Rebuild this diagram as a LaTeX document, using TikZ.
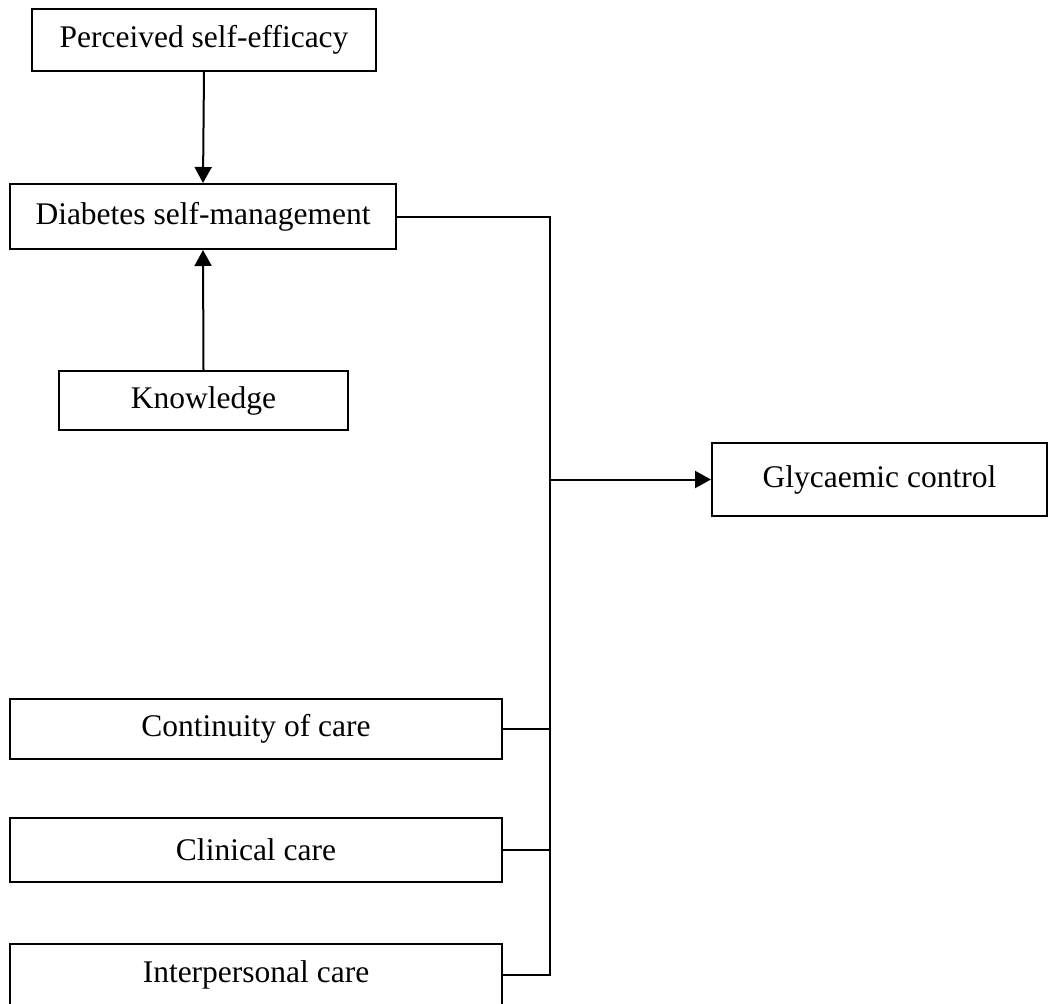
\documentclass[tikz,border=0pt]{standalone}
\usepackage{fontspec}
\setmainfont{Liberation Serif}
\usetikzlibrary{arrows.meta}

\begin{document}
\begin{tikzpicture}[x=1pt,y=-1pt,
  box/.style={draw, line width=2pt, rectangle, inner sep=0pt,
    font=\fontsize{31.5}{37}\selectfont},
  link/.style={line width=2pt},
  arrowlink/.style={line width=2pt, -{Triangle[width=17pt,length=16pt]}}]
  \useasboundingbox (0,0) rectangle (1048,1003);

  % factor boxes
  \node[box, minimum width=344pt, minimum height=62pt] (pse) at (204,40) {Perceived self-efficacy};
  \node[box, minimum width=386pt, minimum height=65pt] (dsm) at (203,216.5) {Diabetes self-management};
  \node[box, minimum width=289pt, minimum height=59pt] (kn) at (203.5,400.5) {Knowledge};
  \node[box, minimum width=335pt, minimum height=73pt] (gc) at (879.5,479.5) {Glycaemic control};
  \node[box, minimum width=492pt, minimum height=60pt] (coc) at (256,729) {Continuity of care};
  \node[box, minimum width=492pt, minimum height=64pt] (cc) at (256,850) {Clinical care};
  \node[box, minimum width=492pt, minimum height=61pt] (ic) at (256,974.5) {Interpersonal care};

  % collecting bus
  \coordinate (bt) at (550,216.5);
  \coordinate (bb) at (550,974.5);
  \coordinate (j) at (550,479.5);

  % arrows into self-management
  \draw[arrowlink] (pse.south) -- (dsm.north);
  \draw[arrowlink] (kn.north) -- (dsm.south);

  % bus and its branches
  \draw[link] (dsm.east) -- (bt) -- (bb) -- (ic.east);
  \draw[link] (coc.east) -- (coc.east -| bt);
  \draw[link] (cc.east) -- (cc.east -| bt);

  % bus to outcome
  \draw[arrowlink] (j) -- (gc.west);
\end{tikzpicture}
\end{document}
